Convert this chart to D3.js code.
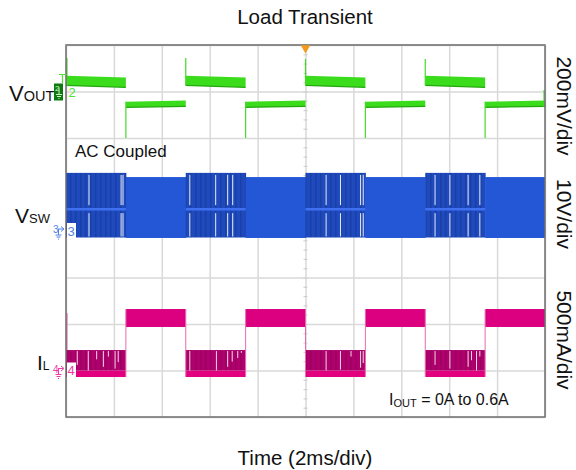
<!DOCTYPE html>
<html><head><meta charset="utf-8">
<script src="https://cdn.jsdelivr.net/npm/d3@7"></script>
<style>body{margin:0;background:#fff} svg{display:block;font-family:"Liberation Sans",Arial,sans-serif}</style>
</head><body><svg id="c" width="576" height="470"></svg>
<script>
// ---------------- data ----------------
const chartTitle = "Load Transient";
const xAxisLabel = "Time (2ms/div)";
const timeRangeMs = [0, 20];           // 10 div x 2 ms
const divRange = [-4, 4];              // 8 vertical divisions
const segStartMs = [0, 2.5, 5, 7.5, 10, 12.5, 15, 17.5];
const segEndMs   = [2.5, 5, 7.5, 10, 12.5, 15, 17.5, 20];
const loadA      = [0, 0.6, 0, 0.6, 0, 0.6, 0, 0.6];

// Ch2 VOUT, AC coupled, mV (band edges at start / end of each segment)
const voutTopStartMv = [68, -44, 68, -44, 68, -44, 68, -44];
const voutTopEndMv   = [60, -39, 60, -39, 60, -39, 60, -39];
const voutBotStartMv = [26, -68, 26, -68, 26, -68, 26, -68];
const voutBotEndMv   = [18, -64, 18, -64, 18, -64, 18, -64];
const voutSpikeMs    = [0.04, 2.5, 5.0, 7.5, 10.0, 12.5, 15.0, 17.5, 19.96];
const voutSpikeMv    = [144, -200, 144, -200, 140, -200, 140, -200, 6];

// Ch3 VSW, V
const vswTopV = [12.5, 11.6, 12.5, 11.6, 12.5, 11.6, 12.5, 11.6];
const vswBotV = [-1.4, -1.5, -1.4, -1.5, -1.4, -1.5, -1.4, -1.5];
const vswIdleV = 4.7;
const vswPauseMs = [0.96, 2.30, 2.38, 5.17, 6.25, 6.75, 6.96, 10.86, 11.46, 12.30, 12.41, 15.41, 16.03, 16.79, 17.28];

// Ch4 IL, mA
const ilTopMa   = [220, 661, 220, 661, 220, 661, 220, 661];
const ilBotMa   = [0, 468, 0, 468, 0, 468, 0, 468];
const ilFloorMa = [-70, 468, -70, 468, -70, 468, -70, 468];
const ilDipMs   = [0.47, 0.93, 1.28, 1.56, 1.77, 2.05, 2.18, 5.17, 6.28, 6.75, 6.94, 7.17, 7.32, 10.86, 11.46, 11.9, 12.30, 12.41, 15.41, 16.03, 16.79, 16.93, 17.14, 17.28];
const ilDipToMa = [60, 0, 120, 40, 150, 20, 90, 0, 0, 40, 95, 135, 190, 0, 10, 150, 30, 80, 60, 20, 40, 110, 0, 150];
const ilSpikeMs = [0.04];
const ilSpikeMa = [617];

// channel setup: [offset in div, units per div]
const chOffsetDiv = [3, 0, -3];
const chPerDiv    = [200, 10, 500];
const rightLabels = ["200mV/div", "10V/div", "500mA/div"];

// ---------------- drawing ----------------
const svg = d3.select("#c");
const L = 66, R = 545, T = 45, B = 417;
const x = d3.scaleLinear().domain(timeRangeMs).range([L, R]);
const yDiv = d3.scaleLinear().domain(divRange).range([B, T]);
const yCh = (c, v) => yDiv(chOffsetDiv[c] + v / chPerDiv[c]);

const defs = svg.append("defs");
defs.append("clipPath").attr("id", "plot").append("rect").attr("x", L).attr("y", T).attr("width", R - L).attr("height", B - T);
const pB = defs.append("pattern").attr("id", "pfmBlue").attr("patternUnits", "userSpaceOnUse").attr("width", 5).attr("height", 10);
pB.append("rect").attr("width", 5).attr("height", 10).attr("fill", "#1f4abd");
pB.append("rect").attr("width", 1.5).attr("height", 10).attr("fill", "#1a40a8");
const pM = defs.append("pattern").attr("id", "pfmMag").attr("patternUnits", "userSpaceOnUse").attr("width", 5).attr("height", 10);
pM.append("rect").attr("width", 5).attr("height", 10).attr("fill", "#b0006d");
pM.append("rect").attr("width", 1.5).attr("height", 10).attr("fill", "#9c0061");

// grid
const gx = svg.append("g").attr("transform", `translate(0,${B})`)
  .call(d3.axisBottom(x).tickValues(d3.range(0, 21, 2)).tickSize(-(B - T)).tickFormat(""));
const gy = svg.append("g").attr("transform", `translate(${L},0)`)
  .call(d3.axisLeft(yDiv).tickValues(d3.range(-4, 5, 1)).tickSize(-(R - L)).tickFormat(""));
[gx, gy].forEach(g => { g.select(".domain").remove(); g.selectAll("line").attr("stroke", "#d9d9d9").attr("stroke-width", 1.5); });
// minor ticks on centre lines
const mx = svg.append("g").attr("transform", `translate(0,${yDiv(0)})`)
  .call(d3.axisBottom(x).tickValues(d3.range(0, 20.01, 0.4)).tickSize(4).tickFormat(""));
mx.selectAll("line").attr("transform", "translate(0,-2)");
const my = svg.append("g").attr("transform", `translate(${x(10)},0)`)
  .call(d3.axisLeft(yDiv).tickValues(d3.range(-4, 4.01, 0.2)).tickSize(4).tickFormat(""));
my.selectAll("line").attr("transform", "translate(2,0)");
[mx, my].forEach(g => { g.select(".domain").remove(); g.selectAll("line").attr("stroke", "#d0d0d0").attr("stroke-width", 1.2); });

const traces = svg.append("g").attr("clip-path", "url(#plot)");
const idx = d3.range(segStartMs.length);
const isLight = i => loadA[i] === 0;

// ---- VSW (ch3) ----
const gV = traces.append("g");
gV.selectAll("rect.band").data(idx).join("rect")
  .attr("x", i => x(segStartMs[i])).attr("width", i => x(segEndMs[i]) - x(segStartMs[i]) + 0.5)
  .attr("y", i => yCh(1, vswTopV[i])).attr("height", i => yCh(1, vswBotV[i]) - yCh(1, vswTopV[i]))
  .attr("fill", i => isLight(i) ? "url(#pfmBlue)" : "#2457d6");
gV.selectAll("line.idle").data(idx.filter(isLight)).join("line")
  .attr("x1", i => x(segStartMs[i])).attr("x2", i => x(segEndMs[i]))
  .attr("y1", yCh(1, vswIdleV)).attr("y2", yCh(1, vswIdleV))
  .attr("stroke", "#3f70f2").attr("stroke-width", 2.5);
const segOf = t => d3.bisectRight(segStartMs, t) - 1;
gV.selectAll("line.pu").data(vswPauseMs).join("line")
  .attr("x1", d => x(d)).attr("x2", d => x(d))
  .attr("y1", d => yCh(1, vswTopV[segOf(d)]) + 2).attr("y2", yCh(1, vswIdleV) - 4)
  .attr("stroke", "#e8eefc").attr("stroke-width", 1);
gV.selectAll("line.pd").data(vswPauseMs).join("line")
  .attr("x1", d => x(d)).attr("x2", d => x(d))
  .attr("y1", yCh(1, vswIdleV) + 4).attr("y2", d => yCh(1, vswBotV[segOf(d)]) - 1)
  .attr("stroke", "#e8eefc").attr("stroke-width", 1);

// ---- IL (ch4) ----
const gI = traces.append("g");
gI.selectAll("rect.floor").data(idx.filter(isLight)).join("rect")
  .attr("x", i => x(segStartMs[i])).attr("width", i => x(segEndMs[i]) - x(segStartMs[i]))
  .attr("y", i => yCh(2, ilBotMa[i])).attr("height", i => yCh(2, ilFloorMa[i]) - yCh(2, ilBotMa[i]))
  .attr("fill", "#e2007f");
gI.selectAll("rect.band").data(idx).join("rect")
  .attr("x", i => x(segStartMs[i])).attr("width", i => x(segEndMs[i]) - x(segStartMs[i]))
  .attr("y", i => yCh(2, ilTopMa[i])).attr("height", i => yCh(2, ilBotMa[i]) - yCh(2, ilTopMa[i]))
  .attr("fill", i => isLight(i) ? "url(#pfmMag)" : "#dc0080");
gI.selectAll("line.dip").data(ilDipMs).join("line")
  .attr("x1", d => x(d)).attr("x2", d => x(d))
  .attr("y1", d => yCh(2, ilTopMa[segOf(d)]) + 1).attr("y2", (d, k) => yCh(2, ilDipToMa[k]))
  .attr("stroke", "#f6d9ea").attr("stroke-width", 1);
gI.selectAll("line.edge").data(idx.slice(1)).join("line")
  .attr("x1", i => x(segStartMs[i])).attr("x2", i => x(segStartMs[i]))
  .attr("y1", i => yCh(2, Math.max(ilTopMa[i], ilTopMa[i - 1])))
  .attr("y2", i => yCh(2, Math.min(ilFloorMa[i], ilFloorMa[i - 1])))
  .attr("stroke", "#e86aae").attr("stroke-width", 1);
gI.selectAll("line.sp").data(ilSpikeMs).join("line")
  .attr("x1", d => x(d)).attr("x2", d => x(d))
  .attr("y1", (d, k) => yCh(2, ilSpikeMa[k])).attr("y2", d => yCh(2, ilTopMa[segOf(d)]))
  .attr("stroke", "#e86aae").attr("stroke-width", 1.2);

// ---- VOUT (ch2) ----
const gO = traces.append("g");
const vArea = d3.area().x(d => x(d.t)).y0(d => yCh(0, d.b)).y1(d => yCh(0, d.top));
gO.selectAll("path.band").data(idx).join("path")
  .attr("d", i => vArea([{ t: segStartMs[i], top: voutTopStartMv[i], b: voutBotStartMv[i] },
                         { t: segEndMs[i], top: voutTopEndMv[i], b: voutBotEndMv[i] }]))
  .attr("fill", "#3bdc1c");
gO.selectAll("path.edge").data(idx).join("path")
  .attr("d", i => d3.line()([[x(segStartMs[i]), yCh(0, voutBotStartMv[i])], [x(segEndMs[i]), yCh(0, voutBotEndMv[i])]]))
  .attr("stroke", "#22a80c").attr("stroke-width", 1.2).attr("fill", "none");
gO.selectAll("line.sp").data(voutSpikeMs).join("line")
  .attr("x1", d => x(d)).attr("x2", d => x(d))
  .attr("y1", (d, k) => yCh(0, voutSpikeMv[k]))
  .attr("y2", (d, k) => { const s = Math.min(segOf(d), segStartMs.length - 1); return yCh(0, voutSpikeMv[k] > 0 ? voutBotStartMv[s] : voutTopStartMv[s]); })
  .attr("stroke", "#45d92a").attr("stroke-width", 1.2);

// frame
svg.append("rect").attr("x", L).attr("y", T).attr("width", R - L).attr("height", B - T)
  .attr("fill", "none").attr("stroke", "#6e6e6e").attr("stroke-width", 1.5);
svg.append("line").attr("x1", L).attr("x2", R).attr("y1", T).attr("y2", T).attr("stroke", "#8a8a8a").attr("stroke-width", 2.2);
// trigger marker
svg.append("path").attr("d", d3.symbol(d3.symbolTriangle, 40)()).attr("transform", `translate(${x(10)},${T + 3}) rotate(180)`).attr("fill", "#f39a1e");

// channel markers
const markerCol = ["#52e032", "#4f82ea", "#ee3aa4"];
// ch2
const m2y = yCh(0, 0);
svg.append("rect").attr("x", 54).attr("y", m2y - 8).attr("width", 9).attr("height", 17).attr("fill", "#0f7a12");
svg.append("text").attr("x", 55).attr("y", m2y - 0.5).attr("font-size", 8).attr("fill", "#c8ffc0").text("2");
svg.append("path").attr("d", `M59,${m2y - 4}V${m2y + 3}M56,${m2y + 3}H62M57,${m2y + 5}H61M58.5,${m2y + 7}H59.5`).attr("stroke", "#c8ffc0").attr("stroke-width", 1);
svg.append("path").attr("d", `M59,${m2y - 17}H66M62.5,${m2y - 17}V${m2y - 8}`).attr("stroke", "#52e032").attr("stroke-width", 1.2).attr("fill", "none");
svg.append("text").attr("x", 68.5).attr("y", m2y + 5.5).attr("font-size", 13).attr("fill", markerCol[0]).text("2");
// ch3, ch4
[[1, "3"], [2, "4"]].forEach(([c, lab]) => {
  const my0 = yCh(c, 0);
  svg.append("rect").attr("x", 67).attr("y", my0 - 8).attr("width", 9).attr("height", 15).attr("fill", "#fff");
  svg.append("text").attr("x", 67.5).attr("y", my0 + 4.5).attr("font-size", 13).attr("fill", markerCol[c]).text(lab);
  svg.append("text").attr("x", 53).attr("y", my0 + 2).attr("font-size", 10).attr("fill", markerCol[c]).text(lab);
  svg.append("path").attr("d", `M58,${my0 - 2}H63M61,${my0 - 4.5}L64,${my0 - 2}L61,${my0 + 0.5}M58.5,${my0 - 2}V${my0 + 4}M55.5,${my0 + 4}H61.5M56.5,${my0 + 6}H60.5M58,${my0 + 8}H59`)
    .attr("stroke", markerCol[c]).attr("stroke-width", 1).attr("fill", "none");
});

// left channel names
function sub(xp, yp, main, s, f1, f2) {
  const t = svg.append("text").attr("x", xp).attr("y", yp).attr("fill", "#111");
  t.append("tspan").attr("font-size", f1).text(main);
  t.append("tspan").attr("font-size", f2).text(s);
}
sub(9, 101, "V", "OUT", 22, 14.5);
sub(15, 223, "V", "SW", 21, 13);
sub(37, 370, "I", "L", 21, 12);

// in-plot annotations
svg.append("text").attr("x", 75).attr("y", 157).attr("font-size", 17).attr("fill", "#111").text("AC Coupled");
const io = svg.append("text").attr("x", 389).attr("y", 405).attr("font-size", 16).attr("fill", "#111");
io.append("tspan").text("I");
io.append("tspan").attr("font-size", 11).attr("dy", 2).text("OUT");
io.append("tspan").attr("dy", -2).text(" = 0A to 0.6A");

// titles
svg.append("text").attr("x", 305).attr("y", 24).attr("text-anchor", "middle").attr("font-size", 20.5).attr("fill", "#111").text(chartTitle);
svg.append("text").attr("x", 305).attr("y", 465).attr("text-anchor", "middle").attr("font-size", 20.5).attr("fill", "#111").text(xAxisLabel);
// right labels (rotated)
const rlCenter = [106, 214, 340];
rightLabels.forEach((s, k) => {
  svg.append("text").attr("transform", `translate(557,${rlCenter[k]}) rotate(90)`)
    .attr("text-anchor", "middle").attr("font-size", 21).attr("fill", "#111").text(s);
});
</script></body></html>
